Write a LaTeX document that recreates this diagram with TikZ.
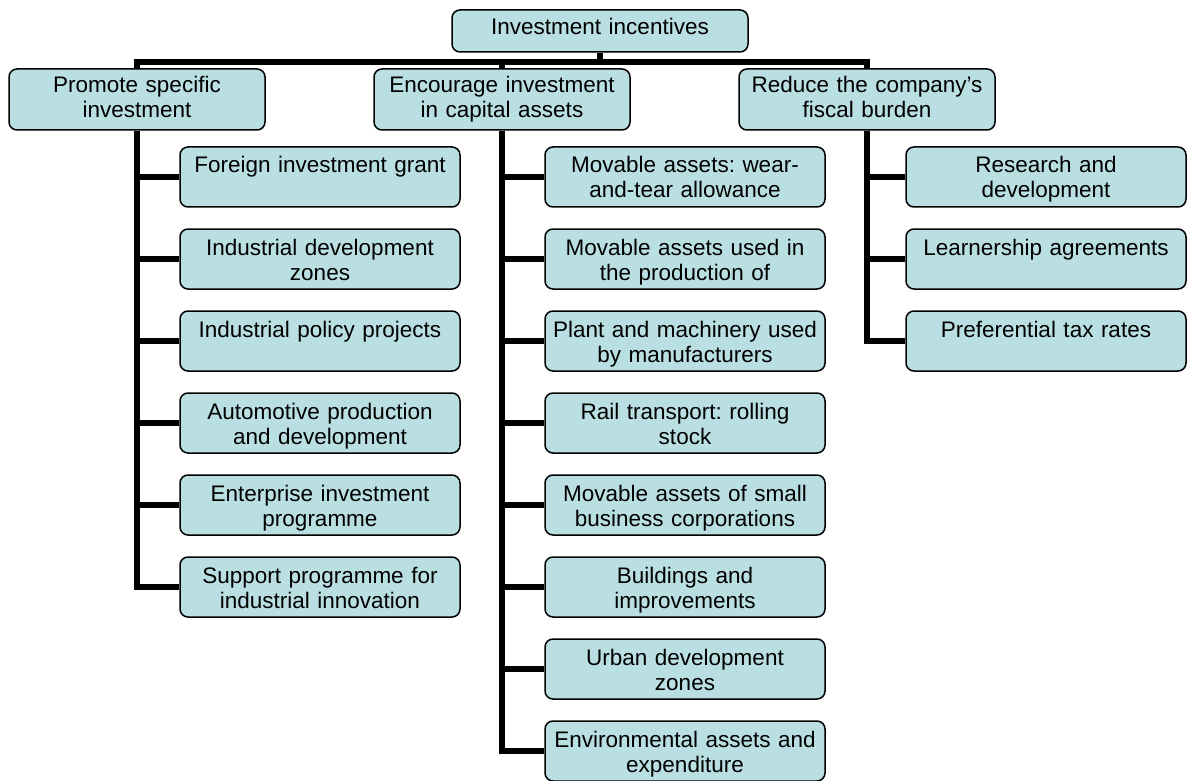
\documentclass[tikz,border=0pt]{standalone}
\usepackage{fontspec}
\setmainfont{Liberation Sans}
\frenchspacing
\definecolor{incbg}{RGB}{186,223,227}
\tikzset{incp/.style={
  x=1pt,
  y=-1pt
}}
\tikzset{incn/.style={
  draw,
  line width=1.5pt,
  fill=incbg,
  shape=rectangle,
  rounded corners=8pt,
  inner xsep=4pt,
  inner ysep=0pt,
  align=center,
  font=\fontsize{22.5pt}{25pt}\selectfont\frenchspacing
}}
\tikzset{topn/.style={incn,text width=288pt,text height=25pt,text depth=17pt}}
\tikzset{grpn/.style={incn,text width=248pt,text height=24pt,text depth=37pt}}
\tikzset{leafn/.style={incn,text width=272pt,text height=26pt,text depth=34pt}}
\tikzset{link/.style={line width=5.5pt}}

\begin{document}
\begin{tikzpicture}[incp]
    \useasboundingbox (0,0) rectangle (1187,781);

    % Top and group boxes
    \node[topn] (top) at (600,31) {Investment incentives};
    \node[grpn] (promote) at (137,99.5) {Promote specific\\investment};
    \node[grpn] (encourage) at (502,99.5) {Encourage investment\\in capital assets};
    \node[grpn] (reduce) at (867,99.5) {Reduce the company’s\\fiscal burden};
    \coordinate (bus) at (600,62);

    % Promote specific investment
    \node[leafn] (p1) at (320,177) {Foreign investment grant};
    \node[leafn] (p2) at (320,259) {Industrial development\\zones};
    \node[leafn] (p3) at (320,341) {Industrial policy projects};
    \node[leafn] (p4) at (320,423) {Automotive production\\and development};
    \node[leafn] (p5) at (320,505) {Enterprise investment\\programme};
    \node[leafn] (p6) at (320,587) {Support programme for\\industrial innovation};

    % Encourage investment in capital assets
    \node[leafn] (e1) at (685,177) {Movable assets: wear-\\and-tear allowance};
    \node[leafn] (e2) at (685,259) {Movable assets used in\\the production of};
    \node[leafn] (e3) at (685,341) {Plant and machinery used\\by manufacturers};
    \node[leafn] (e4) at (685,423) {Rail transport: rolling\\stock};
    \node[leafn] (e5) at (685,505) {Movable assets of small\\business corporations};
    \node[leafn] (e6) at (685,587) {Buildings and\\improvements};
    \node[leafn] (e7) at (685,669) {Urban development\\zones};
    \node[leafn] (e8) at (685,751) {Environmental assets and\\expenditure};

    % Reduce the company's fiscal burden
    \node[leafn] (r1) at (1046,177) {Research and\\development};
    \node[leafn] (r2) at (1046,259) {Learnership agreements};
    \node[leafn] (r3) at (1046,341) {Preferential tax rates};

    % Bus from the top box
    \draw[link] (top.south) -- (bus);
    \draw[link] (promote.north) -- (promote.north |- bus) -| (reduce.north);
    \draw[link] (encourage.north) -- (encourage.north |- bus);

    % Spines and stubs
    \draw[link] (promote.south) |- (p6.west)
      (p1.west) -- (p1.west -| promote.south)
      (p2.west) -- (p2.west -| promote.south)
      (p3.west) -- (p3.west -| promote.south)
      (p4.west) -- (p4.west -| promote.south)
      (p5.west) -- (p5.west -| promote.south);
    \draw[link] (encourage.south) |- (e8.west)
      (e1.west) -- (e1.west -| encourage.south)
      (e2.west) -- (e2.west -| encourage.south)
      (e3.west) -- (e3.west -| encourage.south)
      (e4.west) -- (e4.west -| encourage.south)
      (e5.west) -- (e5.west -| encourage.south)
      (e6.west) -- (e6.west -| encourage.south)
      (e7.west) -- (e7.west -| encourage.south);
    \draw[link] (reduce.south) |- (r3.west)
      (r1.west) -- (r1.west -| reduce.south)
      (r2.west) -- (r2.west -| reduce.south);

  \end{tikzpicture}
\end{document}
